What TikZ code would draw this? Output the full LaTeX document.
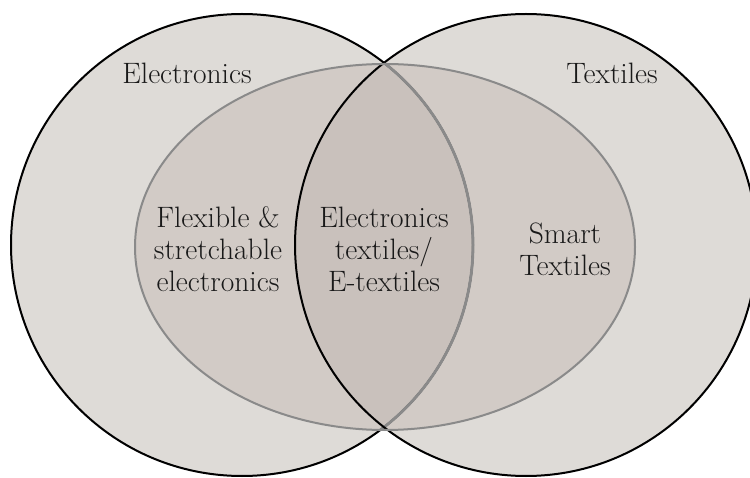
\documentclass[tikz,border=0pt]{standalone}
\usepackage{tikz}
\usetikzlibrary{calc}
\definecolor{setfill}{RGB}{222,219,215}
\definecolor{ovalfill}{RGB}{210,203,198}
\definecolor{lensfill}{RGB}{201,193,188}
\definecolor{ovalline}{RGB}{138,138,138}
\tikzset{
  setline/.style={draw=black,line width=2pt},
  ovalborder/.style={draw=ovalline,line width=2pt},
  venntext/.style={align=center,font=\fontsize{29.5}{32}\selectfont,text=black!90}
}

\begin{document}
\begin{tikzpicture}[x=1pt,y=1pt]
				\useasboundingbox (0,0) rectangle (750,477);
				\clip (0,0) rectangle (750,477);
				\coordinate (E) at (242,232);
				\coordinate (T) at (526,232);
				\coordinate (O) at (385,230);
				%sets
				\fill[setfill] (E) circle[radius=231];
				\fill[setfill] (T) circle[radius=231];
				\fill[ovalfill] (O) ellipse[x radius=250,y radius=183];
				%overlap
				\begin{scope}
					\clip (E) circle[radius=231];
					\clip (O) ellipse[x radius=250,y radius=183];
					\fill[lensfill] (T) circle[radius=231];
				\end{scope}
				%borders
				\draw[setline] (E) circle[radius=231];
				\begin{scope}
					\clip (O) ellipse[x radius=250,y radius=183];
					\draw[ovalborder,line width=2.8pt] (E) circle[radius=231];
				\end{scope}
				\draw[setline] (T) circle[radius=231];
				\draw[ovalborder] (O) ellipse[x radius=250,y radius=183];
				
				\node[venntext] (elec) at (187,404) {Electronics};
				\node[venntext] (text) at (612,404) {Textiles};
				\node[venntext] (flex) at (218,228) {Flexible \&\\stretchable\\electronics};
				\node[venntext] (etex) at (384,228) {Electronics\\textiles/\\E-textiles};
				\node[venntext] (smart) at (565,228) {Smart\\Textiles};
				
			\end{tikzpicture}
\end{document}
